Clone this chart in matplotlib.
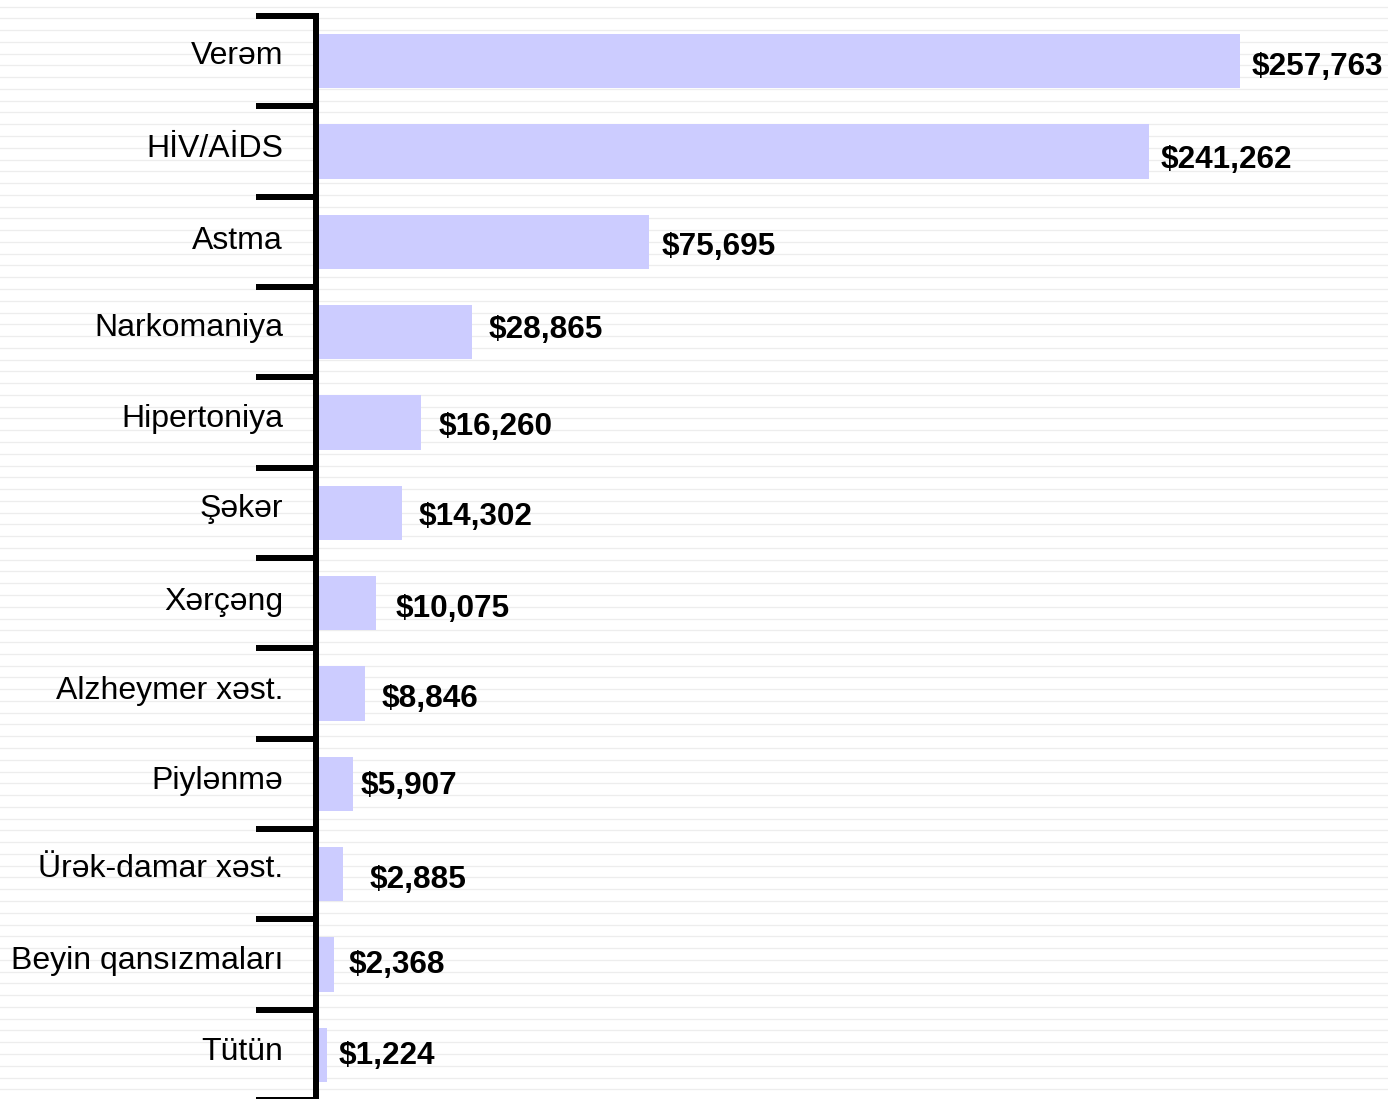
import numpy as np
import matplotlib
matplotlib.use("Agg")
import matplotlib.pyplot as plt

# categories top to bottom, with the dollar figures printed next to each bar
categories = ["Verəm", "HİV/AİDS", "Astma", "Narkomaniya", "Hipertoniya", "Şəkər",
              "Xərçəng", "Alzheymer xəst.", "Piylənmə", "Ürək-damar xəst.",
              "Beyin qansızmaları", "Tütün"]
values = [257763, 241262, 75695, 28865, 16260, 14302,
          10075, 8846, 5907, 2885, 2368, 1224]
# bar lengths as drawn in the picture (thousand $, bars are not to scale)
bar_len = [257.8, 232.4, 92.9, 43.4, 29.2, 23.9, 16.7, 13.6, 10.2, 7.4, 5.0, 3.1]

# layout tweaks for the labels (pixels)
val_dx = [12, 12, 13, 17, 18, 17, 20, 17, 8, 27, 15, 11]
val_dy = [2, 4.5, 2, -6, 1.5, 1, 2, 2.5, -1, 2, -3.5, -2]
cat_dy = [-5, -3, -1, -4, -4, -4, -1, -3, -3, -5, -4, -3]

W, H, DPI = 1388, 1099, 100
px = 72.0 / DPI  # points per pixel
fonts = ["Liberation Sans", "DejaVu Sans"]

fig = plt.figure(figsize=(W / DPI, H / DPI), dpi=DPI)
fig.patch.set_facecolor("white")

# striped background
bg = fig.add_axes([0, 0, 1, 1], zorder=-1)
bg.set_xlim(0, 1)
bg.set_ylim(H, 0)
bg.axis("off")
for yy in np.arange(6.5, H, 11.77):
    bg.axhline(yy, color="#ededed", lw=1.3 * px)

left = 316 / W
top = 1 - 16 / H
bottom = -1 / H
ax = fig.add_axes([left, bottom, 1 - left, top - bottom])
ax.patch.set_visible(False)

n = len(categories)
y = np.arange(n)
k = bar_len[0] / 924.0  # data units per pixel
ax.barh(y, bar_len, height=0.6, color="#ccccff", zorder=1)
ax.set_xlim(0, (W - 316) * k)
ax.set_ylim(n - 0.5, -0.5)

for s in ["top", "right", "bottom"]:
    ax.spines[s].set_visible(False)
ax.spines["left"].set_linewidth(6 * px)
ax.spines["left"].set_color("black")
ax.spines["left"].set_zorder(3)

ax.set_xticks([])
ax.set_yticks(np.arange(-0.5, n, 1.0))
ax.set_yticklabels([])
ax.tick_params(axis="y", direction="out", length=60 * px, width=6 * px, color="black")

for i in range(n):
    ax.annotate(categories[i], xy=(0, i), xycoords=("axes fraction", "data"),
                xytext=(-33 * px, -cat_dy[i] * px), textcoords="offset points",
                ha="right", va="center", fontsize=23, family=fonts, color="black")
    ax.annotate("${:,}".format(values[i]), xy=(bar_len[i], i),
                xytext=(val_dx[i] * px, -val_dy[i] * px), textcoords="offset points",
                ha="left", va="center_baseline", fontsize=22.7, fontweight="bold",
                family=fonts, color="black")

fig.savefig("out.png", dpi=DPI)
